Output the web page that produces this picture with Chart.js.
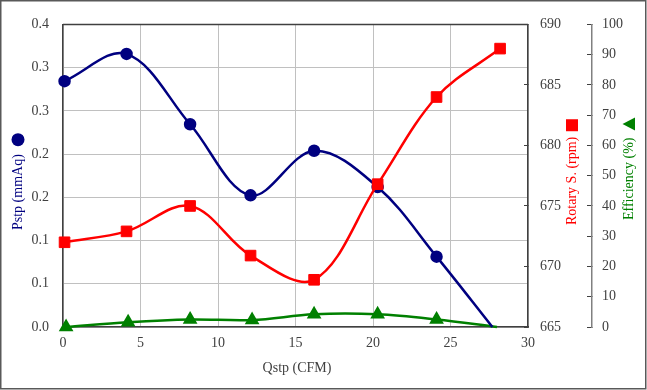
<!DOCTYPE html>
<html>
<head>
<meta charset="utf-8">
<script src="https://cdn.jsdelivr.net/npm/chart.js@4"></script>
<style>
body{margin:0;background:#fff;}
</style>
</head>
<body>
<canvas id="c" width="647" height="390"></canvas>
<script>
// data
const flowPstp = [0.1, 4.1, 8.2, 12.1, 16.2, 20.3, 24.1, 27.7];
const pstp = [0.325, 0.361, 0.268, 0.174, 0.233, 0.185, 0.093, 0];
const flowRpm = [0.1, 4.1, 8.2, 12.1, 16.2, 20.3, 24.1, 28.2];
const rpm = [672.0, 672.9, 675.0, 670.9, 668.9, 676.8, 684.0, 688.0];
const flowEff = [0.2, 4.2, 8.2, 12.2, 16.2, 20.3, 24.1, 28.0];
const eff = [0, 1.6, 2.5, 2.3, 4.2, 4.2, 2.5, 0];
const pstpTicks = [0, 0.0571, 0.1143, 0.1714, 0.2286, 0.2857, 0.3429, 0.4];
const pstpLabels = ["0.0", "0.1", "0.1", "0.2", "0.2", "0.3", "0.3", "0.4"];

Chart.defaults.font.family = '"Liberation Serif", "Times New Roman", serif';
Chart.defaults.font.size = 14;
Chart.defaults.color = "#404040";

const pts = (xs, ys) => xs.map((x, i) => ({x: x, y: ys[i]}));
const hideLast = arr => arr.map((v, i) => i === arr.length - 1 ? 0 : 1);

function vTitle(ctx, cx, yStart, text, color, mark, gap) {
  ctx.save();
  ctx.translate(cx, yStart);
  ctx.rotate(-Math.PI / 2);
  ctx.font = '14px "Liberation Serif"';
  ctx.fillStyle = color;
  ctx.textBaseline = "middle";
  ctx.textAlign = "left";
  const w = ctx.measureText(text).width;
  ctx.fillText(text, 0, 0);
  const m = w + gap + 6.5;
  ctx.beginPath();
  if (mark === "circle") {
    ctx.arc(m, 0, 6.5, 0, Math.PI * 2);
  } else if (mark === "square") {
    ctx.rect(m - 6, -6, 12, 12);
  } else {
    ctx.moveTo(m - 6.5, 6);
    ctx.lineTo(m + 6.5, 6);
    ctx.lineTo(m, -6.5);
    ctx.closePath();
  }
  ctx.fill();
  ctx.restore();
}

const frame = {
  id: "frame",
  beforeDraw(chart) {
    const ctx = chart.ctx;
    ctx.save();
    ctx.fillStyle = "#fff";
    ctx.fillRect(0, 0, chart.width, chart.height);
    ctx.restore();
  },
  beforeDatasetsDraw(chart) {
    const a = chart.chartArea, ctx = chart.ctx;
    ctx.save();
    ctx.strokeStyle = "#404040";
    ctx.lineWidth = 1.5;
    ctx.beginPath();
    ctx.moveTo(a.left, a.top);
    ctx.lineTo(a.right, a.top);
    ctx.stroke();
    ctx.restore();
  },
  afterDraw(chart) {
    const ctx = chart.ctx;
    vTitle(ctx, 18, 230, "Pstp (mmAq)", "#000080", "circle", 8);
    vTitle(ctx, 572, 225, "Rotary S. (rpm)", "#ff0000", "square", 5);
    vTitle(ctx, 629, 220, "Efficiency (%)", "#008000", "triangle", 7);
    ctx.save();
    ctx.font = '14px "Liberation Serif"';
    ctx.fillStyle = "#404040";
    ctx.textAlign = "center";
    ctx.textBaseline = "middle";
    ctx.fillText("Qstp (CFM)", 297, 368);
    ctx.strokeStyle = "#595959";
    ctx.lineWidth = 1.5;
    ctx.strokeRect(0.75, 0.75, 645, 388);
    ctx.restore();
  }
};

new Chart(document.getElementById("c"), {
  type: "scatter",
  data: {
    datasets: [
      {
        label: "Pstp",
        data: pts(flowPstp, pstp),
        yAxisID: "y",
        showLine: true,
        borderColor: "#000080",
        backgroundColor: "#000080",
        borderWidth: 2.5,
        pointStyle: "circle",
        pointRadius: hideLast(pstp).map(v => v * 5),
        tension: 0.35,
        clip: false,
        order: 2
      },
      {
        label: "Rotary S.",
        data: pts(flowRpm, rpm),
        yAxisID: "rpm",
        showLine: true,
        borderColor: "#ff0000",
        backgroundColor: "#ff0000",
        borderWidth: 2.5,
        pointStyle: "rect",
        pointRadius: 7.5,
        pointBorderWidth: 1,
        tension: 0.35,
        clip: false,
        order: 1
      },
      {
        label: "Efficiency",
        data: pts(flowEff, eff),
        yAxisID: "eff",
        showLine: true,
        borderColor: "#008000",
        backgroundColor: "#008000",
        borderWidth: 2.5,
        pointStyle: "triangle",
        pointRadius: hideLast(eff).map(v => v * 6),
        tension: 0.35,
        clip: false,
        order: 3
      }
    ]
  },
  options: {
    responsive: false,
    animation: false,
    layout: {padding: {top: 19, left: 0, right: 0, bottom: 0}},
    plugins: {legend: {display: false}, tooltip: {enabled: false}},
    scales: {
      x: {
        type: "linear",
        position: "bottom",
        min: 0,
        max: 30,
        ticks: {stepSize: 5, padding: 8},
        grid: {color: "#c0c0c0", drawTicks: false},
        border: {color: "#404040", width: 1.5},
        afterFit: s => { s.height = 63; }
      },
      y: {
        position: "left",
        min: 0,
        max: 0.4,
        afterBuildTicks: s => { s.ticks = pstpTicks.map(v => ({value: v})); },
        ticks: {padding: 14, callback: (v, i) => pstpLabels[i]},
        grid: {color: "#c0c0c0", drawTicks: false},
        border: {color: "#404040", width: 1.5},
        afterFit: s => { s.width = 63; }
      },
      rpm: {
        position: "right",
        min: 665,
        max: 690,
        ticks: {stepSize: 5, padding: 16},
        grid: {drawOnChartArea: false, drawTicks: true, tickLength: -4, color: "#404040"},
        border: {color: "#404040", width: 1.5},
        afterFit: s => { s.width = 64; }
      },
      eff: {
        position: "right",
        min: 0,
        max: 100,
        ticks: {stepSize: 10, padding: 15},
        grid: {drawOnChartArea: false, drawTicks: true, tickLength: -5, color: "#404040"},
        border: {color: "#808080", width: 1.5},
        afterFit: s => { s.width = 55; }
      }
    }
  },
  plugins: [frame]
});
</script>
</body>
</html>
